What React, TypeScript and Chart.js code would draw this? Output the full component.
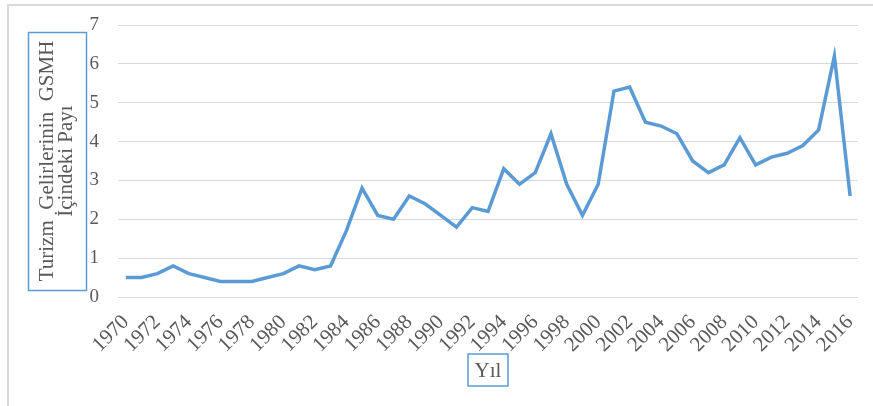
import React, { useEffect, useRef } from "react";
import { Chart, registerables } from "chart.js";

Chart.register(...registerables);

const years: string[] = [
  "1970","1971","1972","1973","1974","1975","1976","1977","1978","1979",
  "1980","1981","1982","1983","1984","1985","1986","1987","1988","1989",
  "1990","1991","1992","1993","1994","1995","1996","1997","1998","1999",
  "2000","2001","2002","2003","2004","2005","2006","2007","2008","2009",
  "2010","2011","2012","2013","2014","2015","2016",
];

const shareValues: number[] = [
  0.5, 0.5, 0.6, 0.8, 0.6, 0.5, 0.4, 0.4, 0.4, 0.5,
  0.6, 0.8, 0.7, 0.8, 1.7, 2.8, 2.1, 2.0, 2.6, 2.4,
  2.1, 1.8, 2.3, 2.2, 3.3, 2.9, 3.2, 4.2, 2.9, 2.1,
  2.9, 5.3, 5.4, 4.5, 4.4, 4.2, 3.5, 3.2, 3.4, 4.1,
  3.4, 3.6, 3.7, 3.9, 4.3, 6.2, 2.6,
];

const yTitleLines: string[] = ["Turizm  Gelirlerinin  GSMH", "İçindeki Payı"];
const xTitle = "Yıl";

const FONT = "'Liberation Serif', 'Times New Roman', serif";
const TEXT = "#595959";
const BLUE = "#5B9BD5";
const GRID = "#d9d9d9";

const decorPlugin = {
  id: "decor",
  beforeDraw(chart: any) {
    const ctx = chart.ctx;
    ctx.save();
    ctx.strokeStyle = GRID;
    ctx.lineWidth = 2;
    ctx.strokeRect(8, 5, 1000, 1000);
    ctx.restore();
  },
  afterDraw(chart: any) {
    const ctx = chart.ctx;
    const a = chart.chartArea;
    ctx.save();
    const bx = a.left - 90;
    const by = a.top + 7;
    const bw = 58;
    const bh = a.bottom - a.top - 7 - 7;
    ctx.strokeStyle = BLUE;
    ctx.lineWidth = 1.5;
    ctx.strokeRect(bx + 0.5, by + 0.5, bw, bh);
    ctx.fillStyle = TEXT;
    ctx.font = `21px ${FONT}`;
    ctx.textAlign = "center";
    ctx.textBaseline = "alphabetic";
    const cy = by + bh / 2;
    ctx.translate(bx, cy);
    ctx.rotate(-Math.PI / 2);
    ctx.fillText(yTitleLines[0], 0, 25);
    ctx.fillText(yTitleLines[1], 0, 44);
    ctx.restore();

    ctx.save();
    const cx = (a.left + a.right) / 2;
    const xw = 40;
    const xh = 32;
    const xy = a.bottom + 57;
    ctx.strokeStyle = BLUE;
    ctx.lineWidth = 1.5;
    ctx.strokeRect(cx - xw / 2, xy, xw, xh);
    ctx.fillStyle = TEXT;
    ctx.font = `21px ${FONT}`;
    ctx.textAlign = "center";
    ctx.textBaseline = "middle";
    ctx.fillText(xTitle, cx, xy + xh / 2 + 1);
    ctx.restore();
  },
};

export default function App() {
  const ref = useRef<HTMLCanvasElement | null>(null);
  useEffect(() => {
    if (!ref.current) return;
    const chart = new Chart(ref.current, {
      type: "line",
      data: {
        labels: years,
        datasets: [
          {
            data: shareValues,
            borderColor: BLUE,
            backgroundColor: BLUE,
            borderWidth: 3.5,
            pointRadius: 0,
            tension: 0,
            fill: false,
          },
        ],
      },
      options: {
        responsive: false,
        animation: false,
        devicePixelRatio: 1,
        layout: { padding: { top: 25, right: 15, left: 0, bottom: 0 } },
        plugins: {
          legend: { display: false },
          tooltip: { enabled: false },
          title: { display: false },
        },
        scales: {
          x: {
            type: "category",
            offset: true,
            grid: { display: false, drawTicks: false },
            border: { display: false },
            ticks: {
              autoSkip: false,
              minRotation: 45,
              maxRotation: 45,
              padding: 13,
              color: TEXT,
              font: { family: FONT, size: 21 },
              callback: (_v: any, i: number) => (i % 2 === 0 ? years[i] : ""),
            },
            afterFit: (s: any) => {
              s.height = 109;
              s.paddingLeft = 0;
              s.paddingRight = 0;
            },
          },
          y: {
            min: 0,
            max: 7,
            grid: { color: GRID, lineWidth: 1, drawTicks: false },
            border: { display: false },
            ticks: {
              stepSize: 1,
              padding: 19,
              color: TEXT,
              font: { family: FONT, size: 19 },
            },
            afterFit: (s: any) => {
              s.width = 118;
              s.paddingTop = 0;
              s.paddingBottom = 0;
            },
          },
        },
      },
      plugins: [decorPlugin],
    });
    return () => chart.destroy();
  }, []);
  return (
    <div style={{ position: "fixed", left: 0, top: 0, width: 873, height: 406, background: "#fff" }}>
      <canvas ref={ref} width={873} height={406} style={{ display: "block" }} />
    </div>
  );
}
